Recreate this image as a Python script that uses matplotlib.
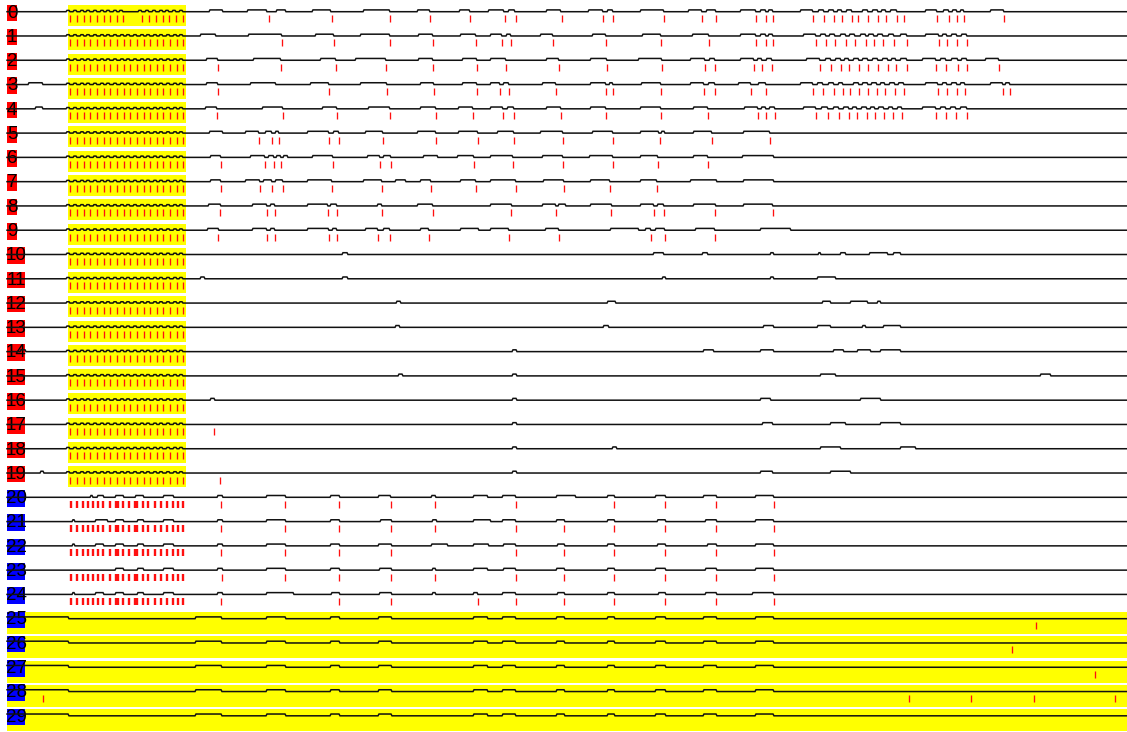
import matplotlib
matplotlib.use("Agg")
import matplotlib.pyplot as plt
from matplotlib import font_manager
from matplotlib.patches import Rectangle

# --- data -------------------------------------------------------------------
n_rows = 30
red_rows = list(range(20))          # red labels, stimulus window highlighted
blue_rows = list(range(20, 30))     # blue labels
full_hl_rows = [25, 26, 27, 28, 29] # whole trace highlighted
window = (68, 186)
t_end = 1127

# spike train inside the window (rows 0-19)
train = [70, 77, 84, 90, 97, 104, 110, 117, 124, 130, 137, 144, 150, 157, 163, 170, 177, 183]
train_row0 = [70, 77, 84, 90, 97, 104, 110, 117, 123, 142, 149, 156, 163, 169, 176, 183]
# stimulation markers inside the window (rows 20-24)
stim = [71, 77, 83, 88, 93, 98, 103, 110, 116, 118, 123, 129, 135, 137, 143, 148, 155, 161, 167, 173, 178, 183]

spikes = [
    [269, 332, 390, 430, 470, 505, 516, 562, 603, 613, 664, 702, 716, 756, 766, 773, 813, 824, 834, 842,
     852, 858, 868, 878, 886, 897, 904, 937, 949, 957, 964, 1004],
    [282, 334, 390, 433, 476, 502, 511, 553, 606, 661, 709, 756, 766, 773, 816, 826, 835, 846, 855, 866,
     874, 883, 894, 907, 939, 947, 957, 967],
    [218, 281, 336, 386, 433, 477, 506, 559, 607, 662, 705, 715, 754, 762, 772, 820, 831, 841, 849, 859,
     868, 878, 888, 896, 907, 936, 946, 958, 967, 999],
    [218, 329, 387, 434, 477, 500, 509, 556, 606, 613, 661, 704, 715, 751, 766, 813, 823, 834, 843, 850,
     859, 868, 877, 885, 895, 904, 938, 947, 957, 965, 1003, 1010],
    [217, 283, 337, 390, 436, 473, 503, 514, 561, 606, 661, 708, 758, 766, 775, 816, 828, 839, 849, 857,
     867, 875, 884, 893, 902, 936, 946, 956, 967],
    [259, 272, 279, 329, 339, 383, 436, 478, 514, 563, 613, 660, 712, 770],
    [221, 265, 274, 281, 333, 380, 391, 474, 513, 563, 613, 658, 708],
    [221, 260, 272, 283, 332, 382, 431, 476, 516, 564, 610, 657],
    [220, 267, 275, 328, 337, 382, 433, 511, 556, 611, 654, 664, 715, 773],
    [218, 267, 275, 329, 337, 378, 390, 429, 509, 559, 651, 665, 715],
    [], [], [], [], [], [], [], [214], [], [220],
    [221, 285, 339, 391, 435, 516, 614, 665, 716, 774],
    [221, 285, 339, 391, 435, 516, 564, 614, 665, 716, 774],
    [221, 285, 339, 391, 516, 564, 614, 665, 716, 774],
    [222, 285, 339, 391, 435, 516, 564, 614, 665, 716, 774],
    [221, 339, 391, 478, 516, 564, 614, 665, 716, 774],
    [1036], [1012], [1095], [43, 909, 971, 1034, 1115], [],
]

# time intervals where each trace sits on its upper level
raised = [
    [(209, 222), (247, 266), (276, 285), (312, 330), (363, 389), (417, 429), (459, 469), (488, 503), (508, 514),
     (546, 560), (588, 602), (607, 612), (640, 663), (688, 701), (706, 715), (740, 755), (760, 765), (768, 772),
     (800, 812), (818, 823), (828, 833), (837, 841), (846, 851), (862, 867), (872, 877), (881, 885), (890, 896),
     (925, 936), (943, 948), (952, 956), (960, 963), (990, 1003)],
    [(200, 215), (248, 281), (315, 333), (360, 389), (418, 432), (460, 475), (490, 501), (506, 510), (540, 552),
     (592, 605), (642, 660), (692, 708), (740, 755), (760, 765), (768, 772), (803, 815), (820, 825), (829, 834),
     (840, 845), (849, 854), (860, 865), (868, 873), (877, 882), (888, 893), (900, 906), (925, 938), (942, 946),
     (951, 956), (961, 966)],
    [(206, 217), (253, 280), (320, 335), (355, 385), (418, 432), (462, 476), (490, 505), (546, 558), (590, 606),
     (638, 661), (690, 704), (709, 714), (740, 753), (757, 761), (766, 771), (806, 819), (825, 830), (835, 840),
     (844, 848), (853, 858), (862, 867), (872, 877), (882, 887), (891, 895), (900, 906), (922, 935), (940, 945),
     (951, 957), (961, 966), (985, 998)],
    [(28, 42), (206, 217), (250, 275), (310, 328), (360, 386), (420, 433), (462, 476), (490, 499), (503, 508),
     (542, 555), (590, 605), (609, 612), (641, 660), (690, 703), (708, 714), (738, 750), (758, 765), (800, 812),
     (817, 822), (828, 833), (838, 842), (853, 858), (862, 867), (871, 876), (880, 884), (889, 894), (898, 903),
     (925, 937), (942, 946), (951, 956), (960, 964), (990, 1002), (1005, 1009)],
    [(35, 42), (205, 216), (262, 282), (322, 336), (368, 389), (420, 435), (458, 472), (490, 502), (507, 513),
     (546, 560), (590, 605), (640, 660), (693, 707), (744, 757), (761, 765), (769, 774), (803, 815), (821, 827),
     (833, 838), (843, 848), (852, 856), (861, 866), (870, 874), (878, 883), (888, 892), (897, 901), (922, 935),
     (940, 945), (950, 955), (960, 966)],
    [(209, 222), (245, 258), (265, 271), (275, 278), (307, 328), (333, 338), (365, 382), (417, 435), (458, 477),
     (497, 513), (540, 562), (592, 612), (640, 658), (661, 664), (693, 711), (743, 769)],
    [(210, 220), (250, 264), (268, 273), (276, 280), (283, 287), (312, 332), (367, 379), (383, 390), (423, 437),
     (457, 473), (490, 512), (542, 562), (589, 612), (640, 657), (693, 707), (742, 773)],
    [(210, 220), (245, 259), (263, 271), (275, 282), (307, 331), (363, 381), (395, 405), (420, 430), (460, 475),
     (490, 515), (543, 563), (590, 609), (640, 656), (690, 716), (743, 773)],
    [(208, 220), (252, 266), (270, 274), (307, 327), (330, 336), (377, 381), (417, 432), (490, 511), (542, 555),
     (558, 565), (590, 611), (640, 653), (657, 663), (693, 715), (743, 772)],
    [(207, 218), (252, 266), (270, 274), (307, 328), (332, 336), (365, 377), (383, 389), (420, 428), (460, 478),
     (490, 508), (545, 558), (610, 638), (645, 650), (655, 664), (695, 714), (760, 790)],
    [(342, 347), (653, 663), (702, 707), (770, 773), (818, 820), (840, 845), (869, 887), (893, 900)],
    [(200, 204), (342, 347), (662, 665), (770, 773), (817, 835)],
    [(396, 400), (607, 615), (822, 830), (850, 867), (877, 880)],
    [(395, 399), (603, 608), (763, 773), (817, 830), (862, 865), (883, 900)],
    [(20, 25), (512, 516), (703, 713), (760, 773), (833, 843), (857, 870), (880, 900)],
    [(398, 402), (512, 516), (820, 835), (1040, 1050)],
    [(210, 214), (512, 516), (760, 770), (860, 880)],
    [(512, 516), (762, 772), (830, 845), (880, 900)],
    [(512, 516), (612, 616), (820, 840), (900, 915)],
    [(40, 43), (512, 516), (760, 772), (830, 850)],
    [(90, 92), (97, 103), (115, 123), (135, 143), (163, 173), (217, 222), (266, 285), (330, 339), (378, 390),
     (431, 435), (473, 487), (502, 515), (556, 575), (607, 614), (655, 665), (703, 716), (755, 773)],
    [(72, 74), (95, 107), (115, 123), (137, 143), (163, 173), (217, 222), (266, 285), (330, 339), (380, 391),
     (432, 436), (473, 490), (502, 515), (556, 564), (607, 614), (657, 665), (705, 716), (755, 773)],
    [(72, 74), (95, 103), (115, 123), (137, 143), (163, 173), (217, 222), (266, 285), (330, 339), (378, 391),
     (431, 447), (473, 488), (503, 515), (557, 564), (607, 614), (657, 665), (707, 716), (755, 773)],
    [(115, 123), (137, 143), (163, 173), (217, 222), (266, 285), (330, 339), (379, 391), (432, 435), (473, 487),
     (503, 515), (556, 564), (607, 614), (655, 665), (705, 716), (755, 773)],
    [(72, 74), (95, 103), (115, 123), (137, 143), (163, 173), (217, 222), (266, 293), (331, 339), (379, 391),
     (432, 435), (473, 477), (502, 515), (557, 564), (607, 614), (658, 665), (705, 716), (752, 773)],
    [(7, 68), (195, 221), (266, 285), (330, 339), (378, 391), (473, 487), (502, 515), (556, 564), (607, 614),
     (655, 665), (703, 716), (755, 773)],
    [(7, 68), (195, 221), (266, 285), (330, 339), (378, 391), (473, 487), (502, 515), (556, 564), (607, 614),
     (655, 665), (703, 716), (755, 773)],
    [(7, 68), (195, 221), (266, 285), (330, 339), (378, 391), (473, 487), (502, 515), (556, 564), (607, 614),
     (655, 665), (703, 716), (755, 773)],
    [(7, 68), (195, 221), (266, 285), (330, 339), (378, 391), (473, 487), (502, 515), (556, 564), (607, 614),
     (655, 665), (703, 716), (755, 773)],
    [(7, 68), (195, 221), (266, 285), (330, 339), (378, 391), (473, 487), (502, 515), (556, 564), (607, 614),
     (655, 665), (703, 716), (755, 773)],
]

# --- layout -----------------------------------------------------------------
ROW0 = 11.7
STEP = 24.28
UP = 1.8
BUMP = 1.3

names = {f.name for f in font_manager.fontManager.ttflist}
label_font = "Liberation Sans Narrow" if "Liberation Sans Narrow" in names else "Liberation Sans"

fig = plt.figure(figsize=(11.27, 7.32), dpi=100)
ax = fig.add_axes([0, 0, 1, 1])
ax.set_xlim(0, t_end)
ax.set_ylim(732, 0)
ax.axis("off")


def row_y(i):
    return ROW0 + STEP * i


for i in red_rows:
    y = row_y(i)
    ax.add_patch(Rectangle((window[0], y - 6.7), window[1] - window[0], 21,
                           facecolor="#ffff00", edgecolor="none", zorder=0))
for i in full_hl_rows:
    y = row_y(i)
    ax.add_patch(Rectangle((7, y - 6.7), t_end - 7, 22,
                           facecolor="#ffff00", edgecolor="none", zorder=0))

for i in range(n_rows):
    y = row_y(i)
    txt = str(i)
    w = 9.5 if len(txt) == 1 else 17.8
    box_color = "#ff0000" if i in red_rows else "#0000ff"
    ax.add_patch(Rectangle((7.3, y - 7.2), w, 16.6, facecolor=box_color, edgecolor="none", zorder=1))
    ax.text(7.3 + w / 2, y + 1.3, txt, ha="center", va="center", fontsize=13.5,
            family=label_font, color="black", zorder=2)

    # trace: step line between base and raised level, small bumps on window spikes
    segs = [(a, b, UP) for a, b in raised[i]]
    if i in red_rows:
        tr = train_row0 if i == 0 else train
        segs += [(s - 4, s - 1, BUMP) for s in tr]
    segs.sort()
    xs, ys = [7], [y - UP if segs and segs[0][0] <= 7 else y]
    for a, b, h in segs:
        if a > 7:
            xs += [a, a + 1]
            ys += [y, y - h]
        xs += [b, b + 1]
        ys += [y - h, y]
    xs.append(t_end)
    ys.append(y)
    ax.plot(xs, ys, color="#111111", lw=1.1, zorder=3, solid_joinstyle="miter")

    # spikes
    if i in red_rows:
        tr = train_row0 if i == 0 else train
        ax.vlines(tr, y + 3.5, y + 10.5, color="#ff1010", lw=0.95, zorder=3)
    if 20 <= i <= 24:
        ax.vlines(stim, y + 3.5, y + 10.5, color="#ff1010", lw=1.7, zorder=3)
    if spikes[i]:
        ax.vlines(spikes[i], y + 3.5, y + 10.5, color="#ff1010", lw=0.95, zorder=3)

fig.savefig("out.png", dpi=100)
